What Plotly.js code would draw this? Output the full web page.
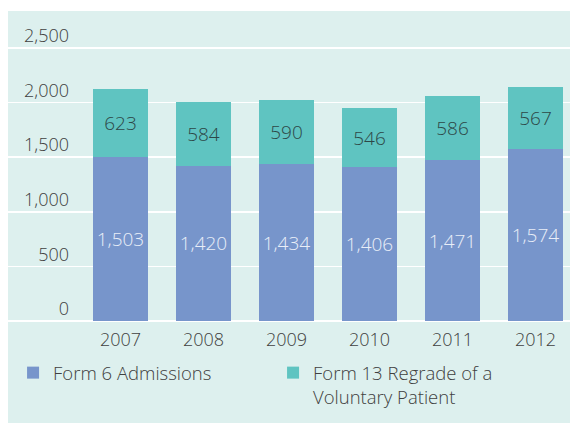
<!DOCTYPE html>
<html>
<head>
<meta charset="utf-8">
<script src="https://cdn.plot.ly/plotly-3.0.1.min.js"></script>
<style>html,body{margin:0;padding:0;background:#fff;}#chart{width:570px;height:423px;}</style>
</head>
<body>
<div id="chart"></div>
<script>
const years = ['2007', '2008', '2009', '2010', '2011', '2012'];
const form6Admissions = [1503, 1420, 1434, 1406, 1471, 1574];
const form13Regrade = [623, 584, 590, 546, 586, 567];
const seriesNames = ['Form 6 Admissions', 'Form 13 Regrade of a<br>Voluntary Patient'];
const yTickVals = [0, 500, 1000, 1500, 2000, 2500];

const FONT = '"Open Sans", "Noto Sans", sans-serif';
const W = 350;
const BG = '#ddf0ee';

const traces = [
  {
    type: 'bar', name: seriesNames[0], x: years, y: form6Admissions,
    marker: {color: '#7795cb'},
    texttemplate: '%{y:,}', textposition: 'inside', insidetextanchor: 'middle',
    textfont: {family: FONT, size: 19, color: '#e9eef8', weight: W},
    hoverinfo: 'none'
  },
  {
    type: 'bar', name: seriesNames[1], x: years, y: form13Regrade,
    marker: {color: '#5fc4c1'},
    texttemplate: '%{y:,}', textposition: 'inside', insidetextanchor: 'middle',
    textfont: {family: FONT, size: 19, color: '#2d4747', weight: W},
    hoverinfo: 'none'
  }
];

const layout = {
  width: 570, height: 423,
  margin: {l: 8, r: 0, t: 20, b: 102, pad: 0},
  paper_bgcolor: '#ffffff',
  plot_bgcolor: BG,
  barmode: 'stack',
  bargap: 0.337,
  font: {family: FONT, size: 18, color: '#404040', weight: W},
  showlegend: true,
  legend: {
    orientation: 'h', x: 0.009, xanchor: 'left', y: -0.11, yanchor: 'top',
    valign: 'top', traceorder: 'normal', bgcolor: 'rgba(0,0,0,0)',
    font: {family: FONT, size: 18.5, color: '#404040', weight: W},
    entrywidth: 215, entrywidthmode: 'pixels'
  },
  xaxis: {
    type: 'category', range: [-1.355, 5.416], fixedrange: true,
    showgrid: false, showline: false, zeroline: false, ticks: '',
    ticklabelstandoff: 6,
    tickfont: {family: FONT, size: 18, color: '#404040', weight: W}
  },
  yaxis: {
    range: [0, 2756], fixedrange: true,
    tickvals: yTickVals, tickformat: ',',
    showgrid: true, gridcolor: '#ffffff', gridwidth: 1.5,
    zeroline: true, zerolinecolor: '#ffffff', zerolinewidth: 2.5,
    showline: false, ticks: '',
    ticklabelstandoff: -62, ticklabelshift: -12,
    tickfont: {family: FONT, size: 18, color: '#404040', weight: W}
  },
  shapes: [
    {type: 'rect', xref: 'paper', yref: 'paper', x0: 0, x1: 1.05, y0: -0.5, y1: 1.0299,
     fillcolor: BG, line: {width: 0}, layer: 'below'}
  ]
};

Plotly.newPlot('chart', traces, layout, {displayModeBar: false, staticPlot: true});
</script>
</body>
</html>
